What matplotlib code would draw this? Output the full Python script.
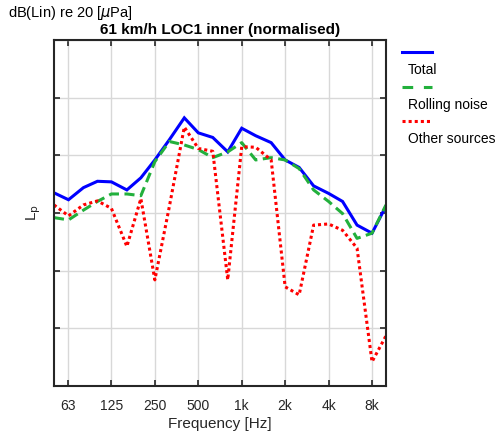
import matplotlib
matplotlib.use('Agg')
import matplotlib.pyplot as plt
from matplotlib.lines import Line2D

# third-octave band centres
freqs = [50, 63, 80, 100, 125, 160, 200, 250, 315, 400, 500, 630, 800,
         1000, 1250, 1600, 2000, 2500, 3150, 4000, 5000, 6300, 8000, 10000]

total = [33.5, 32.3, 34.4, 35.5, 35.4, 34.0, 36.1, 39.2, 42.7, 46.5, 43.9, 43.1,
         40.6, 44.7, 43.4, 42.2, 39.2, 37.9, 34.7, 33.4, 32.0, 27.9, 26.5, 31.2]
rolling = [29.2, 28.8, 30.5, 32.0, 33.3, 33.3, 33.0, 38.9, 42.4, 41.8, 41.0, 39.6,
           40.6, 42.2, 39.2, 39.6, 39.2, 37.7, 34.0, 32.0, 29.9, 25.6, 26.5, 31.4]
other = [31.4, 29.5, 31.4, 32.1, 30.8, 24.2, 32.5, 18.4, 31.1, 44.9, 41.2, 40.7,
         18.4, 41.5, 41.4, 39.2, 17.2, 15.8, 27.9, 28.1, 27.0, 23.9, 4.2, 8.7]

xticks = [63, 125, 250, 500, 1000, 2000, 4000, 8000]
xticklabels = ['63', '125', '250', '500', '1k', '2k', '4k', '8k']
series_names = ['Total', 'Rolling noise', 'Other sources']


def main():
    plt.rcParams['font.family'] = ['Liberation Sans', 'DejaVu Sans']
    fig = plt.figure(figsize=(5.01, 4.37), dpi=100)
    ax = fig.add_axes([54 / 501, 1 - 386 / 437, 332 / 501, 346 / 437])

    ax.plot(freqs, total, color='#0000ff', lw=2.2, solid_joinstyle='miter')
    ax.plot(freqs, rolling, color='#22b03c', lw=2.2, dashes=(3.3, 1.8))
    ax.plot(freqs, other, color='#ff0000', lw=2.2, dashes=(1, 1))

    ax.set_xscale('log')
    ax.set_xlim(50, 10000)
    ax.set_ylim(0, 60)
    ax.set_xticks(xticks)
    ax.set_xticklabels(xticklabels)
    ax.minorticks_off()
    ax.set_yticks(range(0, 61, 10))
    ax.set_yticklabels([])
    ax.grid(True, color='#d8d8d8', lw=1)
    ax.set_axisbelow(True)
    ax.tick_params(direction='in', top=True, right=True, length=4, width=1.2,
                   labelsize=10, colors='#262626', pad=9)
    ax.tick_params(axis='y', pad=0)
    for s in ax.spines.values():
        s.set_linewidth(1.5)
        s.set_color('#262626')

    ax.set_xlabel('Frequency [Hz]', fontsize=11, color='#262626', labelpad=3)
    ax.set_ylabel('L$_\\mathrm{p}$', fontsize=11, color='#262626', labelpad=8)
    ax.set_title('61 km/h LOC1 inner (normalised)', fontsize=11,
                 fontweight='bold', pad=4)
    fig.text(8 / 501, 1 - 13 / 437, 'dB(Lin) re 20 [$\\mu$Pa]', fontsize=10.5,
             va='center', ha='left')

    # legend: sample line above each label
    styles = [dict(color='#0000ff', lw=2.2),
              dict(color='#22b03c', lw=2.2, dashes=(3.5, 3.5)),
              dict(color='#ff0000', lw=2.2, dashes=(1, 1))]
    line_y = [52, 87, 121]
    for name, st, ly in zip(series_names, styles, line_y):
        fy = 1 - ly / 437
        fig.add_artist(Line2D([402 / 501, 432 / 501], [fy, fy],
                              transform=fig.transFigure, **st))
        fig.text(408 / 501, 1 - (ly + 18) / 437, name, fontsize=10,
                 va='center', ha='left')

    fig.savefig('out.png', dpi=100)


if __name__ == "__main__":
    main()
